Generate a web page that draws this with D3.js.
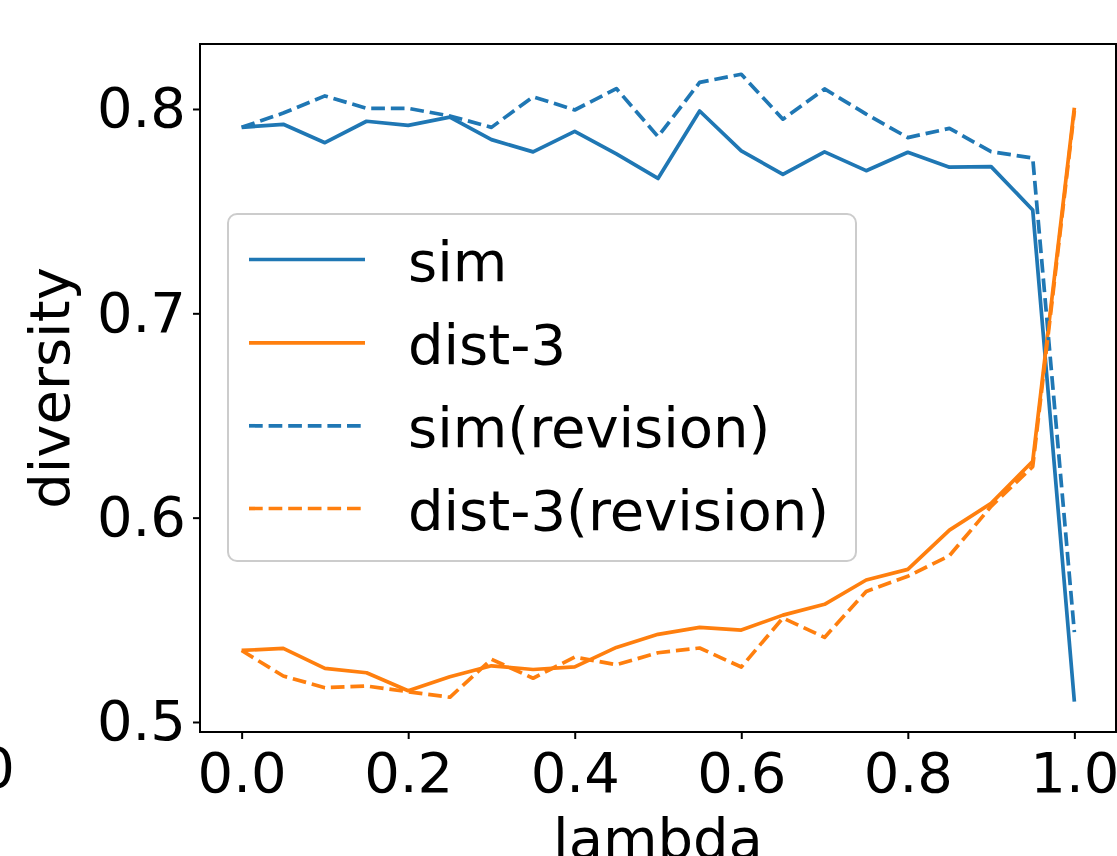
<!DOCTYPE html>
<html>
<head>
<meta charset="utf-8">
<script src="https://cdn.jsdelivr.net/npm/d3@7"></script>
<style>
  html, body { margin: 0; padding: 0; background: #fff; overflow: hidden; }
  svg { display: block; font-family: "DejaVu Sans", sans-serif; }
</style>
</head>
<body>
<svg id="chart" width="1117" height="856"></svg>
<script>
const lambdas = [0.0, 0.05, 0.1, 0.15, 0.2, 0.25, 0.3, 0.35, 0.4, 0.45, 0.5, 0.55, 0.6, 0.65, 0.7, 0.75, 0.8, 0.85, 0.9, 0.95, 1.0];
const sim = [0.791, 0.7925, 0.7835, 0.794, 0.792, 0.796, 0.785, 0.779, 0.789, 0.778, 0.766, 0.799, 0.7795, 0.768, 0.779, 0.7698, 0.7788, 0.7715, 0.7718, 0.7506, 0.510];
const dist3 = [0.535, 0.536, 0.5262, 0.5241, 0.5153, 0.5221, 0.5275, 0.5257, 0.527, 0.5365, 0.5429, 0.5463, 0.545, 0.5523, 0.5576, 0.5695, 0.5747, 0.5939, 0.607, 0.6276, 0.8006];
const simRevision = [0.791, 0.798, 0.8064, 0.8003, 0.8003, 0.7966, 0.791, 0.806, 0.7995, 0.810, 0.7865, 0.813, 0.817, 0.795, 0.8098, 0.7975, 0.786, 0.7905, 0.7791, 0.776, 0.544];
const dist3Revision = [0.535, 0.5225, 0.5168, 0.5176, 0.5148, 0.5121, 0.5307, 0.5214, 0.5318, 0.528, 0.5339, 0.5362, 0.5269, 0.5509, 0.5414, 0.5639, 0.5713, 0.5814, 0.6055, 0.625, 0.799];
const xTicks = [0.0, 0.2, 0.4, 0.6, 0.8, 1.0];
const yTicks = [0.5, 0.6, 0.7, 0.8];
const seriesNames = ["sim", "dist-3", "sim(revision)", "dist-3(revision)"];
const seriesColors = ["#1f77b4", "#ff7f0e", "#1f77b4", "#ff7f0e"];
const seriesDashed = [false, false, true, true];

const series = [sim, dist3, simRevision, dist3Revision];

const svg = d3.select("#chart");
const FS = 56;
const LW = 3.7;
const DASH = "13.7,5.9";

const pLeft = 200, pRight = 1116, pTop = 44, pBottom = 732;
const x = d3.scaleLinear().domain([-0.05, 1.05]).range([pLeft, pRight]);
const y = d3.scaleLinear().domain([0.4951, 0.8318]).range([pBottom, pTop]);

// lines
const line = d3.line().x((d, i) => x(lambdas[i])).y(d => y(d));
const plotG = svg.append("g");
series.forEach((s, k) => {
  plotG.append("path")
    .datum(s)
    .attr("d", line)
    .attr("fill", "none")
    .attr("stroke", seriesColors[k])
    .attr("stroke-width", LW)
    .attr("stroke-linejoin", "round")
    .attr("stroke-dasharray", seriesDashed[k] ? DASH : null);
});

// frame
svg.append("rect")
  .attr("x", pLeft).attr("y", pTop)
  .attr("width", pRight - pLeft).attr("height", pBottom - pTop)
  .attr("fill", "none").attr("stroke", "#000").attr("stroke-width", 2);

// axes
const xAxis = svg.append("g")
  .attr("transform", `translate(0,${pBottom})`)
  .call(d3.axisBottom(x).tickValues(xTicks).tickFormat(d3.format(".1f")).tickSize(7).tickPadding(13));
const yAxis = svg.append("g")
  .attr("transform", `translate(${pLeft},0)`)
  .call(d3.axisLeft(y).tickValues(yTicks).tickFormat(d3.format(".1f")).tickSize(7).tickPadding(7));
[xAxis, yAxis].forEach(a => {
  a.select(".domain").remove();
  a.selectAll(".tick line").attr("stroke", "#000").attr("stroke-width", 2);
  a.selectAll(".tick text").attr("fill", "#000").style("font-size", FS + "px").style("font-family", "DejaVu Sans");
});

// axis labels
svg.append("text")
  .attr("x", (pLeft + pRight) / 2).attr("y", 858)
  .attr("text-anchor", "middle")
  .style("font-size", FS + "px")
  .text("lambda");
svg.append("text")
  .attr("transform", `translate(69,${(pTop + pBottom) / 2}) rotate(-90)`)
  .attr("text-anchor", "middle")
  .style("font-size", FS + "px")
  .text("diversity");

// clipped fragment of neighbouring panel's tick label
svg.append("text")
  .attr("x", 15).attr("y", 787)
  .attr("text-anchor", "end")
  .style("font-size", FS + "px")
  .text("1.0");

// legend
const lg = svg.append("g");
lg.append("rect")
  .attr("x", 228).attr("y", 214)
  .attr("width", 856 - 228).attr("height", 561 - 214)
  .attr("rx", 9).attr("ry", 9)
  .attr("fill", "#fff").attr("fill-opacity", 0.8)
  .attr("stroke", "#cccccc").attr("stroke-width", 2);
const rowY = [259.5, 342.8, 425.8, 508.5];
seriesNames.forEach((name, k) => {
  lg.append("line")
    .attr("x1", 249).attr("x2", 365)
    .attr("y1", rowY[k]).attr("y2", rowY[k])
    .attr("stroke", seriesColors[k])
    .attr("stroke-width", LW)
    .attr("stroke-dasharray", seriesDashed[k] ? DASH : null);
  lg.append("text")
    .attr("x", 408).attr("y", rowY[k] + 21)
    .style("font-size", FS + "px")
    .text(name);
});
</script>
</body>
</html>
